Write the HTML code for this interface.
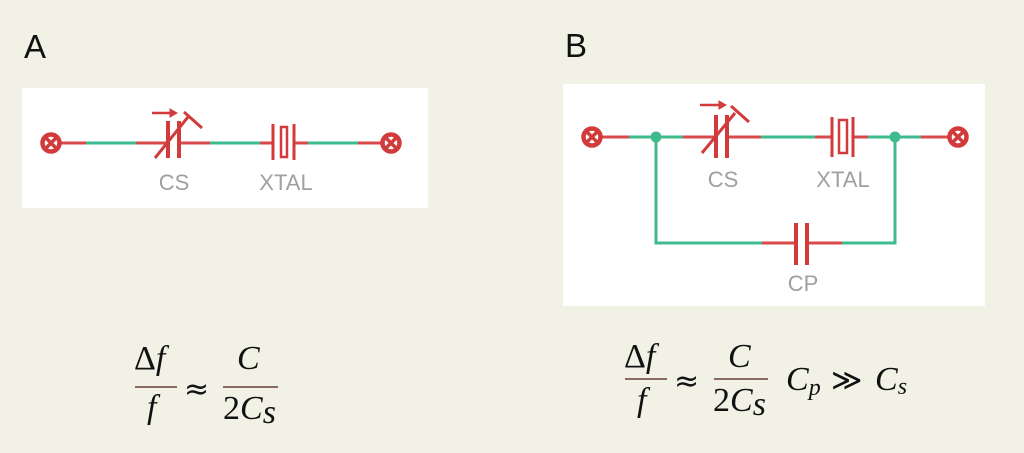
<!DOCTYPE html>
<html><head><meta charset="utf-8"><style>
html,body{margin:0;padding:0;background:#f2f1e6;}
svg{display:block;}
.lbl{font-family:"Liberation Sans",sans-serif;font-size:22px;fill:#a0a0a0;}
.m{font-family:"Liberation Serif",serif;font-style:italic;font-size:34px;fill:#111;}
.n{font-family:"Liberation Serif",serif;font-size:34px;fill:#111;}
.ap{font-family:"DejaVu Sans",sans-serif;font-size:30px;fill:#111;}
</style></head><body>
<svg width="1024" height="453" viewBox="0 0 1024 453" xmlns="http://www.w3.org/2000/svg">
<rect width="1024" height="453" fill="#f2f1e6"/>
<text x="24" y="58" font-family="Liberation Sans,sans-serif" font-size="33" fill="#111">A</text>
<text x="565" y="57" font-family="Liberation Sans,sans-serif" font-size="33" fill="#111">B</text>
<rect x="22" y="88" width="406" height="120" fill="#fff"/>
<rect x="563" y="84" width="422" height="222" fill="#fff"/>
<defs>
<g id="term"><circle r="8.5" fill="none" stroke="#d23b3b" stroke-width="4.5"/><path d="M-5,-5L5,5M5,-5L-5,5" stroke="#d23b3b" stroke-width="3.5"/></g>
</defs>
<!-- A circuit -->
<g stroke-width="3" fill="none">
<path d="M60,143H86M136,143H167M180,143H210M260,143H273M294,143H308M358,143H382" stroke="#d9494b"/>
<path d="M86,143H136M210,143H260M308,143H358" stroke="#3dbb8c"/>
</g>
<use href="#term" x="51" y="143"/>
<use href="#term" x="391" y="143"/>
<g stroke="#d23b3b" fill="none">
<path d="M168,121V158M179,121V158" stroke-width="4"/>
<path d="M155,158L188,117M184,112L202,128" stroke-width="3"/>
<path d="M152,113H171" stroke-width="2.5"/>
<path d="M170,109L177,113L170,117Z" fill="#d23b3b" stroke-width="1"/>
<path d="M273,124V160M294,124V160" stroke-width="3"/>
<rect x="281" y="127" width="6" height="30" stroke-width="2.5"/>
</g>
<text class="lbl" x="174" y="190" text-anchor="middle">CS</text>
<text class="lbl" x="286" y="190" text-anchor="middle">XTAL</text>
<!-- B circuit -->
<g stroke-width="3" fill="none">
<path d="M601,137H629M683,137H715M727,137H761M815,137H832M853,137H868M921,137H949M762,243H795M807,243H842" stroke="#d9494b"/>
<path d="M629,137H683M761,137H815M868,137H921M656,137V243H762M842,243H895V137" stroke="#3dbb8c"/>
</g>
<circle cx="656" cy="137" r="5.5" fill="#3dbb8c"/>
<circle cx="895" cy="137" r="5.5" fill="#3dbb8c"/>
<use href="#term" x="592" y="137"/>
<use href="#term" x="958" y="137"/>
<g stroke="#d23b3b" fill="none">
<path d="M716,115V158M727,115V158" stroke-width="4"/>
<path d="M702,153L735,113M731,106L749,122" stroke-width="3"/>
<path d="M700,105H721" stroke-width="2.5"/>
<path d="M719,101L726,105L719,109Z" fill="#d23b3b" stroke-width="1"/>
<path d="M832,117V157M853,117V157" stroke-width="3"/>
<rect x="839" y="120" width="8" height="33" stroke-width="2.5"/>
<path d="M796,223V265M807,223V265" stroke-width="4"/>
</g>
<text class="lbl" x="723" y="187" text-anchor="middle">CS</text>
<text class="lbl" x="843" y="187" text-anchor="middle">XTAL</text>
<text class="lbl" x="803" y="291" text-anchor="middle">CP</text>
<!-- Formula A -->
<g>
<text class="n" x="134" y="369">Δ<tspan class="m">f</tspan></text>
<line x1="135" y1="387" x2="177" y2="387" stroke="#8a6a66" stroke-width="2"/>
<text class="m" x="147" y="418">f</text>
<text class="ap" x="184" y="399">≈</text>
<text class="m" x="237" y="369">C</text>
<line x1="223" y1="387" x2="278" y2="387" stroke="#8a6a66" stroke-width="2"/>
<text class="n" x="223" y="419">2<tspan class="m">C</tspan><tspan class="m" font-size="24" dy="4">s</tspan></text>
</g>
<!-- Formula B -->
<g>
<text class="n" x="624" y="367">Δ<tspan class="m">f</tspan></text>
<line x1="625" y1="379" x2="667" y2="379" stroke="#8a6a66" stroke-width="2"/>
<text class="m" x="637" y="411">f</text>
<text class="ap" x="674" y="391">≈</text>
<text class="m" x="728" y="367">C</text>
<line x1="714" y1="379" x2="768" y2="379" stroke="#8a6a66" stroke-width="2"/>
<text class="n" x="713" y="411">2<tspan class="m">C</tspan><tspan class="m" font-size="24" dy="4">s</tspan></text>
<text class="m" x="786" y="390">C<tspan font-size="24" dy="5">p</tspan></text>
<text class="ap" x="831" y="390">≫</text>
<text class="m" x="875" y="390">C<tspan font-size="24" dy="4">s</tspan></text>
</g>
</svg>
</body></html>
